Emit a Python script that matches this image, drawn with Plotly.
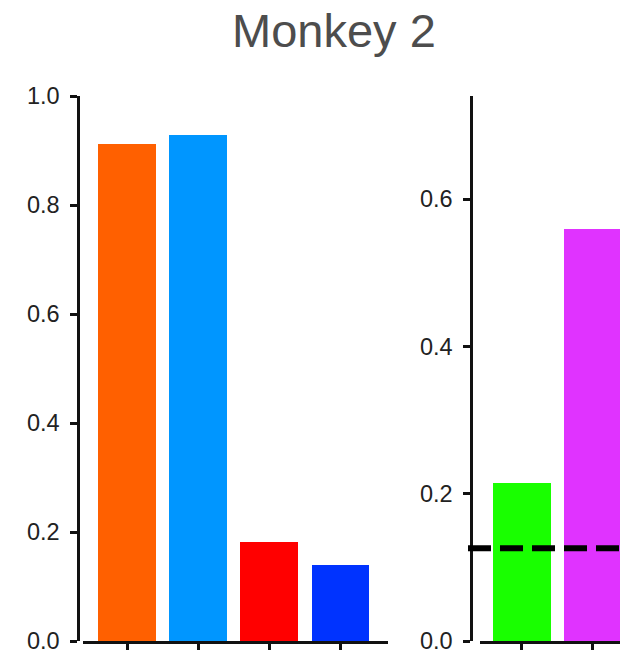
import plotly.graph_objects as go

# Left panel: four conditions
left_pos = [0, 1, 2, 3]
left_vals = [0.912, 0.928, 0.181, 0.139]
left_colors = ["#FF6000", "#0096FF", "#FF0000", "#0033FF"]

# Right panel: two conditions (second one runs off the edge)
right_pos = [0, 1]
right_vals = [0.214, 0.559]
right_colors = ["#19FF00", "#E033FF"]

# Chance level
chance = 0.126

left_ticks = [0.0, 0.2, 0.4, 0.6, 0.8, 1.0]
right_ticks = [0.0, 0.2, 0.4, 0.6]

W, H = 620, 653
FONT = "Liberation Sans, Arial, Helvetica, sans-serif"
AX = "#111111"

fig = go.Figure()
fig.add_trace(go.Bar(x=left_pos, y=left_vals, marker=dict(color=left_colors, line=dict(width=0)),
                     width=0.81, xaxis="x", yaxis="y", showlegend=False))
fig.add_trace(go.Bar(x=right_pos, y=right_vals, marker=dict(color=right_colors, line=dict(width=0)),
                     width=0.81, xaxis="x2", yaxis="y2", showlegend=False))

ydom = [(H - 641) / H, (H - 96) / H]

common_x = dict(showline=True, linewidth=2.5, linecolor=AX, ticks="outside", ticklen=6,
                tickwidth=2.5, tickcolor=AX, showticklabels=False, showgrid=False,
                zeroline=False, fixedrange=True, automargin=False)
common_y = dict(showline=True, linewidth=2.5, linecolor=AX, ticks="outside", ticklen=7,
                tickwidth=2.5, tickcolor=AX, showgrid=False, zeroline=False,
                tickformat=".1f", tickfont=dict(family=FONT, size=23.5, color="#222222"),
                ticklabelstandoff=6, ticklabeloverflow="allow", automargin=False,
                anchor="free", domain=ydom)

fig.update_layout(
    width=W, height=H,
    margin=dict(l=0, r=0, t=0, b=0),
    paper_bgcolor="white", plot_bgcolor="white",
    template="none",
    bargap=0,
    xaxis=dict(domain=[83 / W, 388 / W], range=[-0.62, 3.67], tickvals=left_pos,
               anchor="y", **common_x),
    yaxis=dict(range=[0, 1.0], tickvals=left_ticks, position=78 / W, **common_y),
    xaxis2=dict(domain=[480 / W, 1.0], range=[-0.59, 1.38], tickvals=right_pos,
                anchor="y2", **common_x),
    yaxis2=dict(range=[0, 0.74], tickvals=right_ticks, position=471 / W, **common_y),
    shapes=[dict(type="line", xref="paper", yref="y2", x0=468 / W, x1=1.0,
                 y0=chance, y1=chance, layer="above",
                 line=dict(color="black", width=6, dash="23px,9px"))],
    annotations=[dict(text="Monkey 2", xref="paper", yref="paper", x=334 / W,
                      y=(H - 30) / H, xanchor="center", yanchor="middle", showarrow=False,
                      font=dict(family=FONT, size=47, color="#4d4d4d"))],
)

fig.write_html("out.html")
